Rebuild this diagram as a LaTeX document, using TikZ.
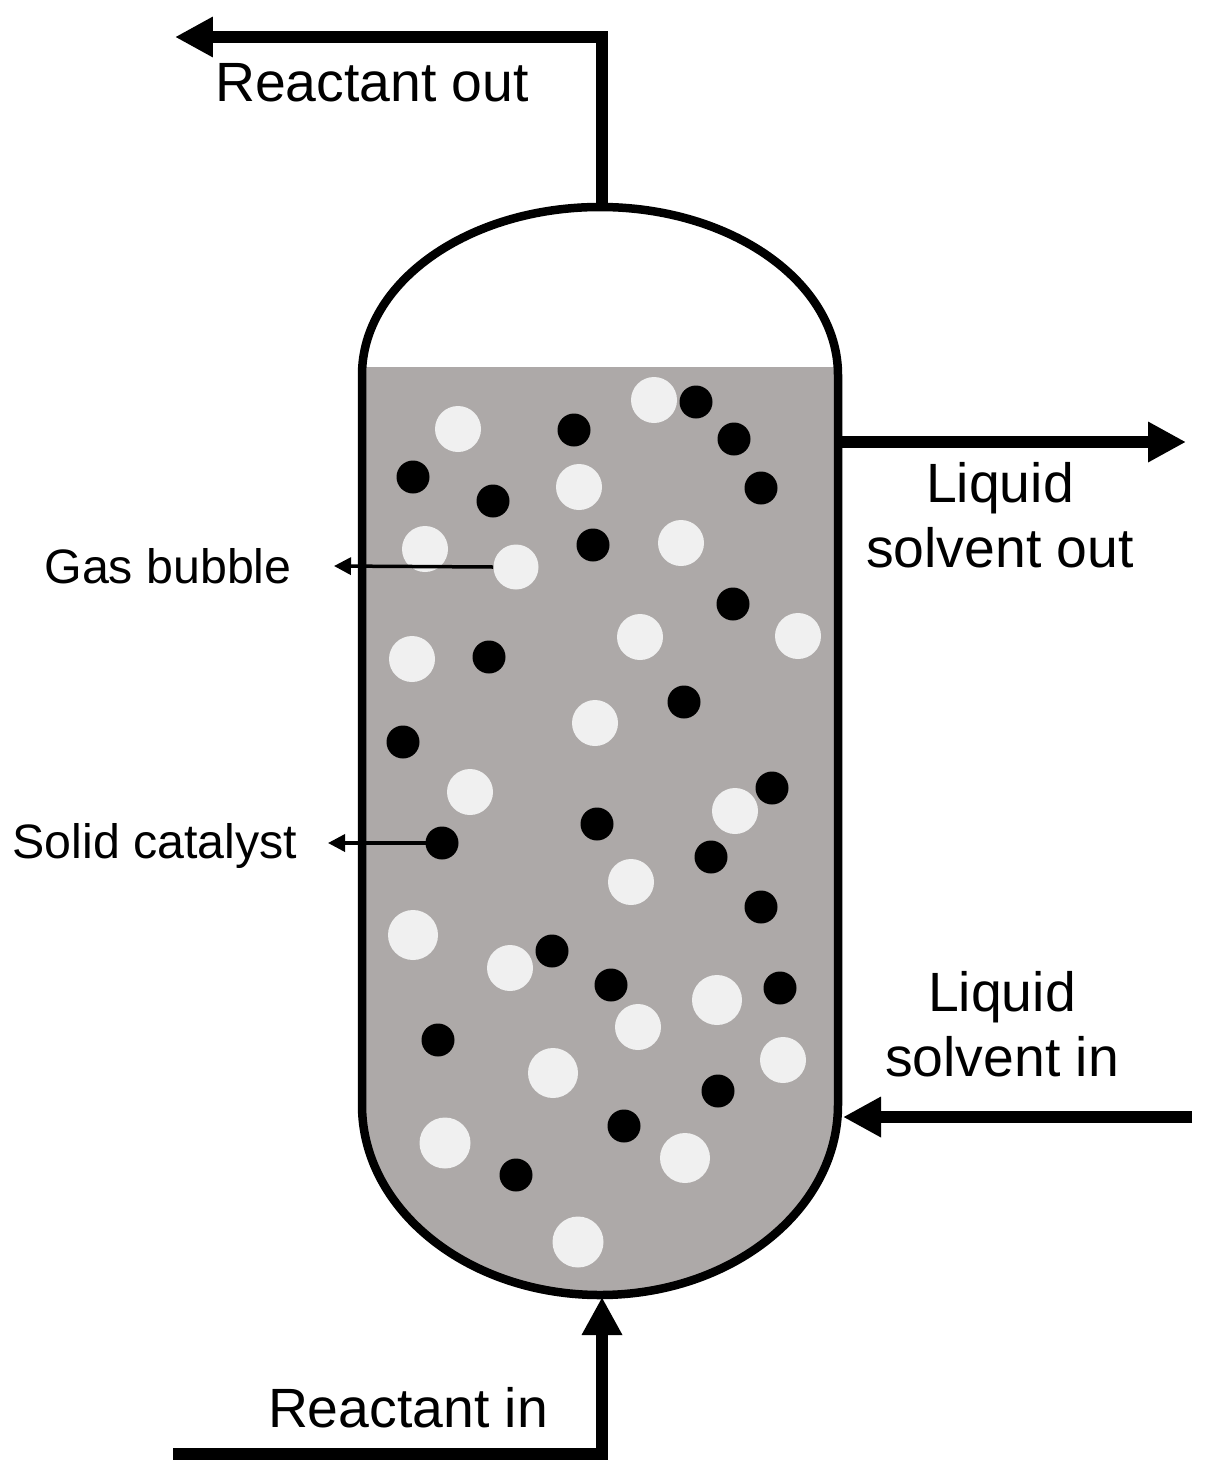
\documentclass[tikz,border=0pt]{standalone}
\usepackage{fontspec}
\setmainfont{Liberation Sans}
\usetikzlibrary{arrows.meta}
\definecolor{liquidgray}{HTML}{ADA9A8}
\definecolor{bubblewhite}{HTML}{F0F0F0}

\begin{document}
\begin{tikzpicture}[x=0.02cm, y=-0.02cm]
		\tikzstyle{bubble}=[circle, fill=bubblewhite, inner sep=0pt]
		\tikzstyle{catalyst}=[circle, fill=black, inner sep=0pt, minimum size=0.66cm]
		\tikzstyle{stream}=[line width=0.25cm, -{Triangle[length=0.76cm, width=0.76cm]}]
		\tikzstyle{pointer}=[line width=0.07cm, -{Triangle[length=0.34cm, width=0.34cm]}]
		\tikzstyle{biglabel}=[font=\fontsize{31.5}{37}\selectfont, align=center, inner sep=0pt]
		\tikzstyle{smalllabel}=[font=\fontsize{27.5}{32}\selectfont, inner sep=0pt]

		\useasboundingbox (0,0) rectangle (1214,1474);

		% liquid, then the wall on top of it
		\fill[liquidgray] (362,367) -- (838,367) -- (838,1105) arc (0:180:238 and 190) -- cycle;

		\foreach \x/\y/\d [count=\i] in {458/429/46, 654/400/46, 579/487/46, 425/549/46, 516/567/45, 681/543/46,
			640/637/46, 798/636/46, 412/659/46, 595/723/46, 470/792/46, 735/811/46, 631/882/46,
			413/935/50, 510/968/46, 717/1000/50, 638/1027/46, 783/1060/46, 553/1073/50, 445/1143/51,
			685/1158/50, 578/1242/51}
			\node[bubble, minimum size=\d*0.02cm] (bubble\i) at (\x,\y) {};

		\foreach \x/\y [count=\i] in {574/430, 696/402, 734/439, 413/477, 493/501, 761/488, 593/545, 733/604,
			489/657, 684/702, 403/742, 772/788, 597/824, 442/843, 711/857, 761/907, 552/951, 611/985,
			780/988, 438/1040, 718/1091, 624/1126, 516/1175}
			\node[catalyst] (catalyst\i) at (\x,\y) {};

		\draw[line width=0.17cm] (362,1105) -- (362,375) arc (180:360:238 and 168) -- (838,1105) arc (0:180:238 and 190) -- cycle;

		\coordinate (vesselTop) at (602,207);
		\coordinate (vesselBottom) at (602,1297);
		\coordinate (vesselOut) at (842,442);
		\coordinate (vesselIn) at (843,1117);
		\coordinate (reactantOutEnd) at (175,37);
		\coordinate (reactantInStart) at (173,1454);
		\coordinate (solventOutEnd) at (1186,442);
		\coordinate (solventInStart) at (1192,1117);
		\coordinate (gasEnd) at (334,566);
		\coordinate (solidEnd) at (328,843);

		\node[biglabel] (reactantOut) at (372,83) {Reactant out};
		\node[biglabel] (solventOut) at (1000,515) {Liquid\\solvent out};
		\node[biglabel] (solventIn) at (1002,1024) {Liquid\\solvent in};
		\node[biglabel] (reactantIn) at (408,1408) {Reactant in};
		\node[smalllabel] (gasLabel) at (168,566) {Gas bubble};
		\node[smalllabel] (solidLabel) at (155,846) {Solid catalyst};

		\draw[stream] (vesselTop) |- (reactantOutEnd);
		\draw[stream] (reactantInStart) -| (vesselBottom);
		\draw[stream] (vesselOut) -- (solventOutEnd);
		\draw[stream] (solventInStart) -- (vesselIn);
		\draw[pointer] (bubble5.west) -- (gasEnd);
		\draw[pointer] (catalyst14.center) -- (solidEnd);

	\end{tikzpicture}
\end{document}
